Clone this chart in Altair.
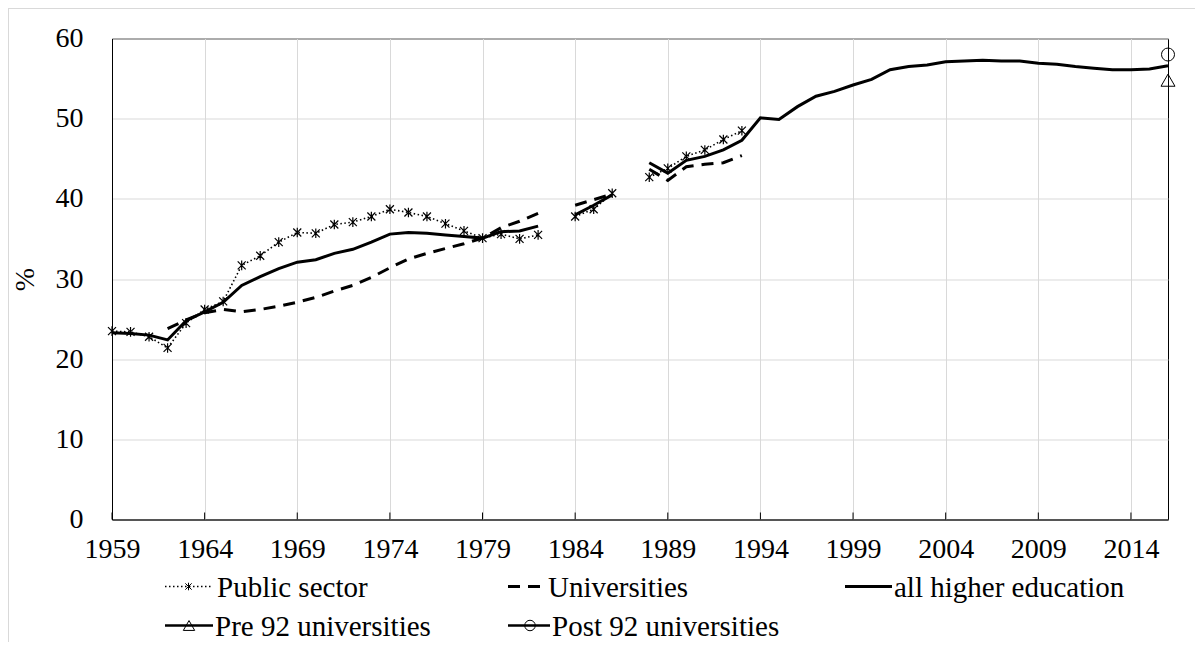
import altair as alt
import pandas as pd

# ---------------- data ----------------
YEARS = list(range(1959, 2017))

PUBLIC_SECTOR = [23.5, 23.4, 22.8, 21.4, 24.5, 26.2, 27.2, 31.7, 32.9, 34.6,
                 35.8, 35.7, 36.8, 37.1, 37.8, 38.7, 38.3, 37.8, 36.9, 36.0,
                 35.1, 35.6, 35.0, 35.5, None, 37.8, 38.7, 40.7, None, 42.7,
                 43.8, 45.3, 46.1, 47.4, 48.5, None, None, None, None, None,
                 None, None, None, None, None, None, None, None, None, None,
                 None, None, None, None, None, None, None, None]

UNIVERSITIES = [None, None, None, 23.8, 24.9, 25.8, 26.2, 25.9, 26.2, 26.6,
                27.1, 27.7, 28.5, 29.2, 30.2, 31.4, 32.5, 33.2, 33.8, 34.4,
                35.1, 36.4, 37.2, 38.2, None, 39.2, 39.9, 40.6, None, 43.7,
                42.3, 44.0, 44.3, 44.5, 45.4, None, None, None, None, None,
                None, None, None, None, None, None, None, None, None, None,
                None, None, None, None, None, None, None, None]

ALL_HE = [23.3, 23.2, 23.0, 22.4, 24.8, 25.9, 27.1, 29.2, 30.3, 31.3,
          32.1, 32.4, 33.2, 33.7, 34.6, 35.6, 35.8, 35.7, 35.5, 35.3,
          35.1, 35.9, 36.0, 36.6, None, 38.0, 39.2, 40.5, None, 44.5,
          43.2, 44.8, 45.3, 46.1, 47.3, 50.1, 49.9, 51.5, 52.8, 53.4,
          54.2, 54.9, 56.1, 56.5, 56.7, 57.1, 57.2, 57.3, 57.2, 57.2,
          56.9, 56.8, 56.5, 56.3, 56.1, 56.1, 56.2, 56.6]

PRE92_YEARS = [2016]
PRE92 = [54.8]
POST92_YEARS = [2016]
POST92 = [58.0]

SERIES_NAMES = ["Public sector", "Universities", "all higher education",
                "Pre 92 universities", "Post 92 universities"]

X_TICKS = [1959, 1964, 1969, 1974, 1979, 1984, 1989, 1994, 1999, 2004, 2009, 2014]
Y_TICKS = [0, 10, 20, 30, 40, 50, 60]

# ---------------- tables ----------------
rows = []
for name, vals in [(SERIES_NAMES[0], PUBLIC_SECTOR), (SERIES_NAMES[1], UNIVERSITIES),
                   (SERIES_NAMES[2], ALL_HE)]:
    for yr, v in zip(YEARS, vals):
        rows.append({"series": name, "year": yr, "value": v})
for yr, v in zip(PRE92_YEARS, PRE92):
    rows.append({"series": SERIES_NAMES[3], "year": yr, "value": v})
for yr, v in zip(POST92_YEARS, POST92):
    rows.append({"series": SERIES_NAMES[4], "year": yr, "value": v})
df = pd.DataFrame(rows)

ticks_df = pd.DataFrame({"year": X_TICKS})

FONT = "'Liberation Serif', 'Times New Roman', Times, serif"
FS = 28
LFS = 29
GRID = "#d9d9d9"
W, H = 1056, 481

x_axis = alt.Axis(values=X_TICKS, format="d", grid=True, gridColor=GRID, gridWidth=1,
                  domainColor="black", domainWidth=1, ticks=False, tickSize=0,
                  labelPadding=16, labelFont=FONT, labelFontSize=FS, labelColor="black",
                  labelFlush=False, labelOverlap=False, title=None)
y_axis = alt.Axis(values=Y_TICKS, grid=True, gridColor=GRID, gridWidth=1,
                  domainColor="black", domainWidth=1, ticks=False, tickSize=0,
                  labelPadding=29, labelFont=FONT, labelFontSize=FS, labelColor="black",
                  title="%", titleFont=FONT, titleFontSize=FS, titleFontWeight="normal",
                  titleColor="black", titleAngle=270, titleX=-87, titleY=240.5,
                  titleAlign="center", titleBaseline="middle")

xs = alt.Scale(domain=[1959, 2016], nice=False, zero=False)
ys = alt.Scale(domain=[0, 60], nice=False)
X = alt.X("year:Q", scale=xs, axis=x_axis)
Y = alt.Y("value:Q", scale=ys, axis=y_axis)

STAR = "M-1,-1L1,1M-1,1L1,-1M0,-1.2L0,1.2"

base = alt.Chart(df)

def sel(name):
    return alt.datum.series == name

public_line = base.mark_line(color="black", strokeWidth=1.6, strokeDash=[1.5, 2.5]).encode(
    x=X, y=Y).transform_filter(sel(SERIES_NAMES[0]))
public_pts = base.mark_point(shape=STAR, size=64, filled=False, color="black",
                             strokeWidth=1.2, opacity=1).encode(
    x=X, y=Y).transform_filter(sel(SERIES_NAMES[0]))
uni_line = base.mark_line(color="black", strokeWidth=3, strokeDash=[12, 8]).encode(
    x=X, y=Y).transform_filter(sel(SERIES_NAMES[1]))
all_line = base.mark_line(color="black", strokeWidth=3).encode(
    x=X, y=Y).transform_filter(sel(SERIES_NAMES[2]))
pre_pt = base.mark_point(shape="triangle-up", size=196, filled=False, color="black",
                         strokeWidth=1, opacity=1).encode(
    x=X, y=Y).transform_filter(sel(SERIES_NAMES[3]))
post_pt = base.mark_point(shape="circle", size=169, filled=False, color="black",
                          strokeWidth=1, opacity=1).encode(
    x=X, y=Y).transform_filter(sel(SERIES_NAMES[4]))

# inward x-axis tick marks
tick_marks = alt.Chart(ticks_df).mark_rule(color="black", strokeWidth=1).encode(
    x=X, y=alt.value(H), y2=alt.value(H - 7))

# outer chart frame (decoration)
one = pd.DataFrame({"k": [0]})
frame_v = alt.Chart(one).mark_rule(color=GRID, strokeWidth=1).encode(
    x=alt.value(-103.5), y=alt.value(-31), y2=alt.value(700))
frame_h = alt.Chart(one).mark_rule(color=GRID, strokeWidth=1).encode(
    x=alt.value(-104), x2=alt.value(1200), y=alt.value(-30))

# ---------------- legend ----------------
R1, R2 = 549.0, 588.0

def leg_text(label, x, y):
    return alt.Chart(pd.DataFrame({"label": [label]})).mark_text(
        align="left", baseline="middle", font=FONT, fontSize=LFS, color="black").encode(
        x=alt.value(x), y=alt.value(y), text="label:N")

def leg_line(x1, x2, y, width, dash=None):
    kw = dict(color="black", strokeWidth=width)
    if dash:
        kw["strokeDash"] = dash
    return alt.Chart(one).mark_rule(**kw).encode(
        x=alt.value(x1), x2=alt.value(x2), y=alt.value(y))

def leg_point(x, y, shape, size, sw):
    return alt.Chart(one).mark_point(shape=shape, size=size, filled=False, color="black",
                                     strokeWidth=sw, opacity=1).encode(
        x=alt.value(x), y=alt.value(y))

legend = [
    leg_line(53, 100, R1 - 1, 1.5, [1.5, 2.5]),
    leg_point(76.5, R1 - 1, STAR, 40, 1),
    leg_text(SERIES_NAMES[0], 105, R1),
    leg_line(396, 433, R1 - 1, 3, [12, 8]),
    leg_text(SERIES_NAMES[1], 436, R1),
    leg_line(733, 780, R1 - 1, 3),
    leg_text(SERIES_NAMES[2], 782, R1),
    leg_line(53, 101, R2 - 1, 2.5),
    leg_point(77, R2 - 1, "triangle-up", 130, 1),
    leg_text(SERIES_NAMES[3], 103, R2),
    leg_line(396, 438, R2 - 1, 2.5),
    leg_point(418, R2 - 1, "circle", 110, 1),
    leg_text(SERIES_NAMES[4], 440, R2),
]

chart = alt.layer(
    frame_v, frame_h, tick_marks,
    public_line, public_pts, uni_line, all_line, pre_pt, post_pt,
    *legend
).properties(
    width=W, height=H,
    padding={"left": 104, "top": 30.5, "right": 27, "bottom": 122.5},
    autosize=alt.AutoSizeParams(type="none"),
    background="white",
).configure_view(stroke="black", strokeWidth=1)

chart.save("out.html", embed_options={"renderer": "svg", "actions": False})
